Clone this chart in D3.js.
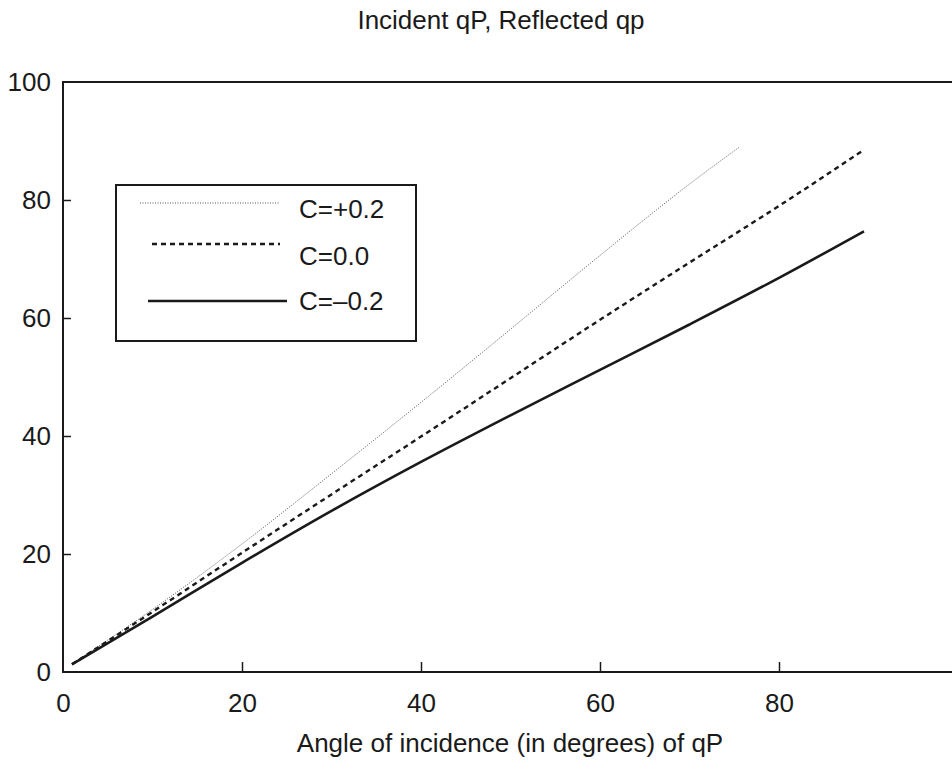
<!DOCTYPE html>
<html>
<head>
<meta charset="utf-8">
<script src="https://cdn.jsdelivr.net/npm/d3@7"></script>
<style>
  html, body { margin: 0; padding: 0; background: #fff; }
  svg { display: block; }
  text { font-family: "Liberation Sans", Arial, sans-serif; fill: #1a1a1a; }
</style>
</head>
<body>
<svg id="chart" width="952" height="762"></svg>
<script>
// ---- data ----
const titleText = "Incident qP, Reflected qp";
const xAxisTitle = "Angle of incidence (in degrees) of qP";
const xTicks = [0, 20, 40, 60, 80];
const yTicks = [0, 20, 40, 60, 80, 100];
const seriesNames = ["C=+0.2", "C=0.0", "C=\u20130.2"];
const xPlus  = [1, 10, 20, 30, 40, 50, 60, 70, 75.6];
const yPlus  = [1.4, 10.6, 21.7, 33.6, 45.7, 58.1, 70.6, 82.7, 89.0];
const xZero  = [1, 10, 20, 30, 40, 50, 60, 70, 80, 89.3];
const yZero  = [1.3, 10.2, 20.2, 30.1, 39.9, 49.8, 59.7, 69.4, 79.0, 88.3];
const xMinus = [1, 10, 20, 30, 40, 50, 60, 70, 80, 89.5];
const yMinus = [1.3, 9.4, 18.5, 27.3, 35.6, 43.5, 51.2, 58.9, 66.8, 74.7];

// ---- layout ----
const svg = d3.select("#chart");
const x = d3.scaleLinear().domain([0, 100]).range([63, 958]);
const y = d3.scaleLinear().domain([0, 100]).range([672, 82]);

const styles = [
  { stroke: "#555", width: 1, dash: "1,1.5" },
  { stroke: "#1a1a1a", width: 2.4, dash: "5,4" },
  { stroke: "#1a1a1a", width: 2.6, dash: null }
];

// frame
svg.append("rect")
  .attr("x", x(0)).attr("y", y(100))
  .attr("width", x(100) - x(0)).attr("height", y(0) - y(100))
  .attr("fill", "none").attr("stroke", "#1a1a1a").attr("stroke-width", 2);

// axes (inward ticks)
const gx = svg.append("g").attr("transform", `translate(0,${y(0)})`)
  .call(d3.axisBottom(x).tickValues(xTicks).tickSize(-10).tickPadding(22).tickFormat(d3.format("d")));
gx.select(".domain").remove();
gx.selectAll(".tick line").attr("stroke", "#1a1a1a").attr("stroke-width", 1.5)
  .filter(d => d === 0).remove();
gx.selectAll(".tick text").attr("font-size", 26).attr("font-family", "Liberation Sans, Arial, sans-serif").attr("fill", "#1a1a1a");

const gy = svg.append("g").attr("transform", `translate(${x(0)},0)`)
  .call(d3.axisLeft(y).tickValues(yTicks).tickSize(-8).tickPadding(12).tickFormat(d3.format("d")));
gy.select(".domain").remove();
gy.selectAll(".tick line").attr("stroke", "#1a1a1a").attr("stroke-width", 1.5)
  .filter(d => d === 0 || d === 100).remove();
gy.selectAll(".tick text").attr("font-size", 26).attr("font-family", "Liberation Sans, Arial, sans-serif").attr("fill", "#1a1a1a");

// title & axis title
svg.append("text").attr("x", 501).attr("y", 29).attr("text-anchor", "middle")
  .attr("font-size", 26).text(titleText);
svg.append("text").attr("x", 510).attr("y", 752).attr("text-anchor", "middle")
  .attr("font-size", 26).text(xAxisTitle);

// lines
const line = d3.line().x(d => x(d[0])).y(d => y(d[1])).curve(d3.curveMonotoneX);
const series = [
  d3.zip(xPlus, yPlus),
  d3.zip(xZero, yZero),
  d3.zip(xMinus, yMinus)
];
series.forEach((s, i) => {
  svg.append("path").datum(s)
    .attr("d", line)
    .attr("fill", "none")
    .attr("stroke", styles[i].stroke)
    .attr("stroke-width", styles[i].width)
    .attr("stroke-dasharray", styles[i].dash);
});

// legend
svg.append("rect").attr("x", 116).attr("y", 185).attr("width", 300).attr("height", 156)
  .attr("fill", "#fff").attr("stroke", "#1a1a1a").attr("stroke-width", 2);
const legLines = [
  { x1: 140, x2: 280, y: 203, ty: 218 },
  { x1: 152, x2: 280, y: 244, ty: 265 },
  { x1: 148, x2: 287, y: 301, ty: 310 }
];
legLines.forEach((l, i) => {
  svg.append("line").attr("x1", l.x1).attr("x2", l.x2).attr("y1", l.y).attr("y2", l.y)
    .attr("stroke", styles[i].stroke).attr("stroke-width", styles[i].width)
    .attr("stroke-dasharray", styles[i].dash);
  svg.append("text").attr("x", 299).attr("y", l.ty).attr("font-size", 26).text(seriesNames[i]);
});
</script>
</body>
</html>
